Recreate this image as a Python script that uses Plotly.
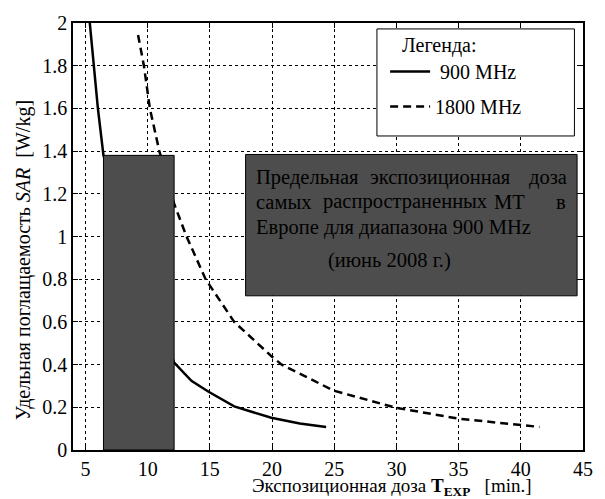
import plotly.graph_objects as go

# ---- data ----
t_900 = [5.35, 5.69, 6.0, 6.45, 12.13, 13.52, 14.9, 16.96, 19.94, 22.23, 24.35]
sar_900 = [2.0, 1.8, 1.6, 1.38, 0.409, 0.324, 0.273, 0.204, 0.151, 0.124, 0.108]

t_1800 = [9.23, 9.70, 10.18, 10.94, 12.15, 13.13, 14.66, 16.96, 19.94, 20.78, 24.96, 29.95, 34.98, 39.97, 41.5]
sar_1800 = [1.944, 1.8, 1.6, 1.4, 1.15, 1.0, 0.8, 0.6, 0.44, 0.40, 0.278, 0.198, 0.147, 0.116, 0.108]

series_names = ["900 MHz", "1800 MHz"]
x_ticks = [5, 10, 15, 20, 25, 30, 35, 40, 45]
y_ticks = [0, 0.2, 0.4, 0.6, 0.8, 1, 1.2, 1.4, 1.6, 1.8, 2]

# limit-dose band (900 MHz phones, June 2008)
band_t = [6.45, 12.13]
band_sar = 1.38

FONT = "Liberation Serif, Times New Roman, serif"
W, H = 605, 499
L, R, T, B = 73, 14, 18, 49
XR = [4, 45]
YR = [0, 2]
pw = W - L - R
ph = H - T - B


def px2x(px):
    return XR[0] + (px - L) / pw * (XR[1] - XR[0])


def py2y(py):
    return YR[0] + (T + ph - py) / ph * (YR[1] - YR[0])


fig = go.Figure()
fig.add_trace(go.Scatter(x=t_900, y=sar_900, mode="lines", name="\u00a0" + series_names[0],
                         legendgroup="a", line=dict(color="black", width=2.5)))
fig.add_trace(go.Scatter(x=t_1800, y=sar_1800, mode="lines", name=series_names[1],
                         legendgroup="b", line=dict(color="black", width=2.5, dash="8px,5px")))

# dark band
fig.add_shape(type="rect", x0=band_t[0], x1=band_t[1], y0=0, y1=band_sar,
              xref="x", yref="y", fillcolor="#4d4d4d",
              line=dict(color="black", width=1), layer="above")
# text box
fig.add_shape(type="rect", x0=px2x(248.3), x1=px2x(585), y0=py2y(294), y1=py2y(151),
              xref="x", yref="y", fillcolor="#4d4d4d",
              line=dict(color="black", width=1), layer="above")
# legend box
fig.add_shape(type="rect", x0=px2x(381.7), x1=px2x(582.3), y0=py2y(132.3), y1=py2y(24),
              xref="x", yref="y", fillcolor="white",
              line=dict(color="black", width=1), layer="above")

tf = dict(family=FONT, size=20.5, color="black")
words = [
    ("Предельная", 257.3, 174, "left"),
    ("экспозиционная", 372.3, 174, "left"),
    ("доза", 577, 174, "right"),
    ("самых", 257.3, 199, "left"),
    ("распространенных", 325, 199, "left"),
    ("МТ", 498.3, 199, "left"),
    ("в", 576, 199, "right"),
    ("Европе для диапазона 900 MHz", 257.3, 225, "left"),
    ("(июнь 2008 г.)", 330, 258, "left"),
]
for txt, px, py, anc in words:
    fig.add_annotation(text=txt, x=px2x(px), y=py2y(py), xref="x", yref="y",
                       xanchor=anc, yanchor="middle", showarrow=False, font=tf)

# axis titles
fig.add_annotation(text="Удельная поглащаемость <i>SAR</i>  [W/kg]",
                   x=0, xref="paper", xshift=23 - L, y=py2y(258), yref="y",
                   textangle=-90, xanchor="center", yanchor="middle",
                   showarrow=False, font=dict(family=FONT, size=20, color="black"))
fig.add_annotation(text="Экспозиционная доза <b>T<sub>EXP</sub></b>   [min.]",
                   x=px2x(397), xref="x", y=0, yref="paper", yshift=-(487 - (T + ph)),
                   xanchor="center", yanchor="middle",
                   showarrow=False, font=dict(family=FONT, size=19, color="black"))

axis_common = dict(showline=True, linecolor="black", linewidth=1.5, mirror="ticks",
                   ticks="inside", ticklen=5, tickcolor="black",
                   showgrid=True, gridcolor="#000000", gridwidth=1, griddash="dot",
                   zeroline=False, tickfont=dict(family=FONT, size=20, color="black"))

fig.update_xaxes(range=XR, tickvals=x_ticks, **axis_common)
fig.update_yaxes(range=YR, tickvals=y_ticks, **axis_common)

fig.update_layout(
    width=W, height=H,
    margin=dict(l=L, r=R, t=T, b=B),
    paper_bgcolor="white", plot_bgcolor="white",
    font=dict(family=FONT, size=20, color="black"),
    showlegend=True,
    legend=dict(x=(390 - L) / pw, y=(T + ph - 21) / ph, xanchor="left", yanchor="top",
                bgcolor="rgba(0,0,0,0)", borderwidth=0, traceorder="grouped",
                title=dict(text="\u00a0\u00a0\u00a0Легенда:", font=dict(family=FONT, size=20)),
                font=dict(family=FONT, size=20), itemwidth=40, tracegroupgap=6),
)

fig.write_html("out.html", config={"displayModeBar": False},
               post_script="document.body.style.margin='0';document.body.style.overflow='hidden';")
